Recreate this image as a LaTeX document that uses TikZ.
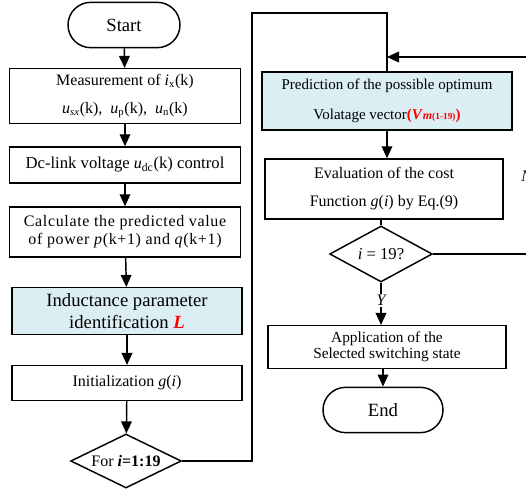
\documentclass[tikz,border=0pt]{standalone}
\usepackage{fontspec}
\setmainfont{Liberation Serif}
\usetikzlibrary{shapes.geometric,arrows.meta}
\definecolor{boxblue}{HTML}{DAEEF3}
\tikzset{
  procbox/.style={draw,line width=1.1pt,rectangle,align=center,inner sep=1pt},
  termbox/.style={draw,line width=1.1pt,rectangle,rounded corners=17pt,minimum width=88pt,minimum height=34pt},
  decbox/.style={draw,line width=1.1pt,diamond,inner sep=0pt},
  flow/.style={line width=1.1pt,-{Triangle[length=9pt,width=8pt]}},
  plainline/.style={line width=1.1pt},
}
\begin{document}
\begin{tikzpicture}[x=0.75pt,y=-0.75pt,font=\fontsize{11}{13}\selectfont]
  \useasboundingbox (0,0) rectangle (526,491);
  % left column
  \node[termbox,minimum width=84pt,font=\fontsize{14}{16}\selectfont] (start) at (124,25) {Start};
  \node[procbox,minimum width=173pt,minimum height=41pt,font=\fontsize{12}{13}\selectfont] (meas) at (125,96)
    {Measurement of \textit{i}\textsubscript{x}(k)\\[8pt]
     \textit{\large u}\textsubscript{\textit{sx}}(k),\ \ \textit{\large u}\textsubscript{p}(k),\ \ \textit{\large u}\textsubscript{n}(k)};
  \node[procbox,minimum width=173pt,minimum height=27pt,font=\fontsize{12.5}{14}\selectfont] (dclink) at (125,165)
    {Dc-link voltage \textit{\large u}\textsubscript{dc}(k) control};
  \node[procbox,minimum width=173pt,minimum height=37.5pt,font=\fontsize{12}{13.5}\addfontfeatures{LetterSpace=4}\selectfont] (calc) at (125,232)
    {Calculate the predicted value\\ of power \textit{p}(k+1) and \textit{q}(k+1)};
  \node[procbox,fill=boxblue,minimum width=172.5pt,minimum height=35pt,font=\fontsize{14}{16}\selectfont] (induct) at (127,311)
    {Inductance parameter\\ identification \textcolor{red}{\textbf{\textit{L}}}};
  \node[procbox,minimum width=172.5pt,minimum height=26pt,font=\fontsize{12}{14}\selectfont] (init) at (127,383)
    {Initialization \textit{g}(\textit{i})};
  \node[decbox,minimum width=83pt,minimum height=40.5pt,font=\fontsize{12}{14}\selectfont] (forloop) at (126,461)
    {\makebox[0pt]{For \textbf{\textit{i}=1:19}}};
  % right column
  \node[procbox,fill=boxblue,minimum width=187.5pt,minimum height=43.5pt,font=\fontsize{11.25}{13}\selectfont] (pred) at (387,101)
    {Prediction of the possible optimum\\[9pt]
     Volatage vector\textcolor{red}{\textbf{(\textit{V}\textit{\small m}{\scriptsize(1-19)})}}};
  \node[procbox,minimum width=178.5pt,minimum height=45pt,font=\fontsize{12}{13}\selectfont] (eval) at (384,189)
    {Evaluation of the cost\\[8pt] Function \textit{g}(\textit{i}) by Eq.(9)};
  \node[decbox,minimum width=77pt,minimum height=42pt,font=\fontsize{12.5}{14}\selectfont] (check) at (381,254)
    {\makebox[0pt]{\textit{i} = 19?}};
  \node[procbox,minimum width=178.5pt,minimum height=32pt,font=\fontsize{11.5}{12}\selectfont] (apply) at (387,347)
    {Application of the\\ Selected switching state};
  \node[termbox,minimum width=90pt,font=\fontsize{14}{16}\selectfont] (endnode) at (383,410) {End};
  \node[anchor=west,inner sep=0pt,font=\itshape\fontsize{12}{14}\selectfont] (nolabel) at (521,176) {N};
  % loop coordinates
  \coordinate (loopleft) at (252,13);
  \coordinate (looptop) at (387,13);
  \coordinate (fbright) at (532,254);
  \coordinate (fbin) at (387,57);
  % arrows
  \draw[flow] (start) -- (meas);
  \draw[flow] (meas) -- (dclink);
  \draw[flow] (dclink) -- (calc);
  \draw[flow] (calc) -- (induct);
  \draw[flow] (induct) -- (init);
  \draw[flow] (init) -- (forloop);
  \draw[plainline] (forloop.east) -| (loopleft) -- (looptop) -- (pred.north);
  \draw[flow] (pred.south) -- (pred.south |- eval.north);
  \draw[plainline] (eval.south -| check.north) -- (check.north);
  \draw[flow] (check.south) -- node[pos=0.42,fill=white,inner sep=1pt,font=\itshape\fontsize{12}{14}\selectfont]{Y} (check.south |- apply.north);
  \draw[flow] (apply.south -| endnode.north) -- (endnode.north);
  \draw[flow] (check.east) -- (fbright) |- (fbin);
\end{tikzpicture}
\end{document}
